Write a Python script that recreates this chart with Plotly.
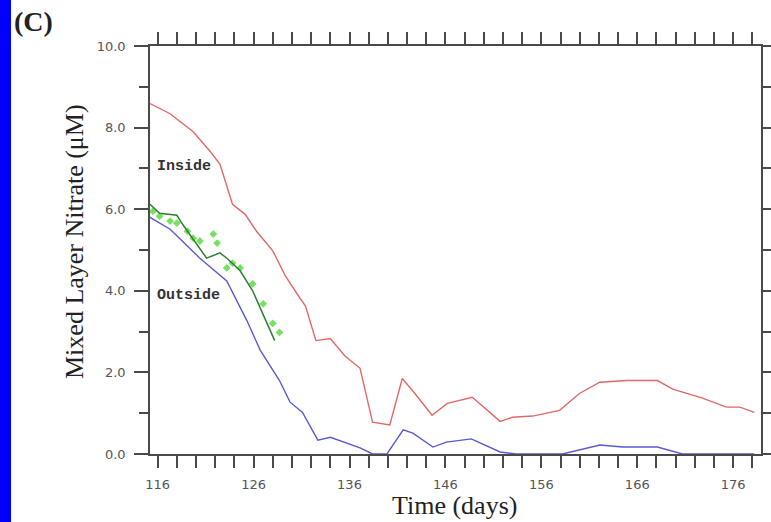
import plotly.graph_objects as go

# Mixed layer nitrate, inside vs outside the patch
inside_day = [115.2, 117.3, 119.7, 121.5, 122.5, 123.8, 125.1, 126.3, 128.0, 129.3,
              130.8, 131.4, 132.5, 134.0, 135.5, 137.1, 138.4, 140.2, 141.5, 142.8,
              144.6, 146.2, 148.8, 151.7, 153.0, 155.1, 157.9, 160.0, 162.1, 164.9,
              168.1, 169.7, 172.8, 175.3, 176.7, 178.2]
inside_no3 = [8.59, 8.34, 7.90, 7.41, 7.10, 6.12, 5.88, 5.46, 4.98, 4.37,
              3.83, 3.63, 2.78, 2.83, 2.41, 2.10, 0.78, 0.71, 1.85, 1.49,
              0.95, 1.24, 1.39, 0.80, 0.90, 0.93, 1.07, 1.49, 1.76, 1.80,
              1.80, 1.59, 1.37, 1.15, 1.15, 1.02]

outside_day = [115.2, 117.3, 120.4, 123.2, 125.3, 126.7, 128.7, 129.8, 131.1, 132.7,
               134.0, 135.7, 137.1, 138.4, 139.9, 141.6, 142.6, 144.7, 146.1, 148.7,
               151.7, 153.4, 158.2, 162.1, 164.5, 168.1, 170.7, 178.2]
outside_no3 = [5.80, 5.51, 4.80, 4.24, 3.27, 2.54, 1.80, 1.27, 1.02, 0.34,
               0.41, 0.27, 0.15, 0.0, 0.0, 0.59, 0.51, 0.17, 0.29, 0.37,
               0.05, 0.0, 0.0, 0.22, 0.17, 0.17, 0.0, 0.0]

model_day = [115.2, 116.2, 118.0, 118.6, 121.1, 122.5, 123.3, 124.6, 125.9, 128.2]
model_no3 = [6.12, 5.90, 5.85, 5.63, 4.80, 4.93, 4.78, 4.49, 4.00, 2.78]

obs_day = [115.5, 116.2, 117.3, 118.0, 119.1, 119.7, 120.4, 121.8, 122.2, 123.2,
           123.8, 124.6, 125.9, 127.0, 128.0, 128.7]
obs_no3 = [5.95, 5.83, 5.71, 5.66, 5.46, 5.29, 5.22, 5.39, 5.17, 4.56,
           4.68, 4.56, 4.17, 3.68, 3.20, 2.98]

x_major = list(range(116, 177, 10))
y_major = [0, 2, 4, 6, 8, 10]

fig = go.Figure()
fig.add_trace(go.Scatter(x=inside_day, y=inside_no3, mode="lines",
                         line=dict(color="#e06868", width=1.4), name="Inside"))
fig.add_trace(go.Scatter(x=outside_day, y=outside_no3, mode="lines",
                         line=dict(color="#5a5ad2", width=1.4), name="Outside"))
fig.add_trace(go.Scatter(x=obs_day, y=obs_no3, mode="markers",
                         marker=dict(symbol="diamond", size=6, color="#78e060"),
                         name="obs"))
fig.add_trace(go.Scatter(x=model_day, y=model_no3, mode="lines",
                         line=dict(color="#2e7d32", width=1.5), name="model"))

tick_font = dict(family="DejaVu Sans", size=13, color="#555555")
axis_common = dict(showgrid=False, zeroline=False, showline=True,
                   linecolor="#4a4a4a", linewidth=1.5, mirror="allticks",
                   ticks="outside", tickcolor="#4a4a4a", tickwidth=1.5,
                   tickfont=tick_font)

fig.update_xaxes(range=[115.2, 178.9], tickvals=x_major,
                 ticktext=[str(v) for v in x_major], ticklen=12,
                 ticklabelstandoff=6,
                 minor=dict(dtick=2, tick0=116, ticks="outside", ticklen=12,
                            tickcolor="#4a4a4a", tickwidth=1.5),
                 **axis_common)
fig.update_yaxes(range=[0, 10], tickvals=y_major,
                 ticktext=[f"{v:.1f}" for v in y_major], ticklen=14,
                 ticklabelstandoff=6,
                 minor=dict(dtick=1, tick0=0, ticks="outside", ticklen=9,
                            tickcolor="#4a4a4a", tickwidth=1.5),
                 **axis_common)

label_font = dict(family="Liberation Mono", size=15, color="#333333")
title_font = dict(family="Liberation Serif", size=26, color="#222222")

annotations = [
    dict(x=0.008, y=(454 - 166) / 408, xref="paper", yref="paper", text="<b>Inside</b>",
         showarrow=False, xanchor="left", yanchor="middle", font=label_font),
    dict(x=0.008, y=(454 - 295) / 408, xref="paper", yref="paper", text="<b>Outside</b>",
         showarrow=False, xanchor="left", yanchor="middle", font=label_font),
    dict(x=(454 - 150) / 611, y=(454 - 505) / 408, xref="paper", yref="paper",
         text="Time (days)", showarrow=False, xanchor="center", yanchor="middle",
         font=title_font),
    dict(x=(75 - 150) / 611, y=(454 - 242) / 408, xref="paper", yref="paper",
         text="Mixed Layer Nitrate (μM)", textangle=-90, showarrow=False,
         xanchor="center", yanchor="middle", font=title_font),
    dict(x=(33 - 150) / 611, y=(454 - 22) / 408, xref="paper", yref="paper",
         text="<b>(C)</b>", showarrow=False, xanchor="center", yanchor="middle",
         font=dict(family="Liberation Serif", size=28, color="#222222")),
]

shapes = [
    dict(type="rect", xref="paper", yref="paper",
         x0=(0 - 150) / 611, x1=(11 - 150) / 611,
         y0=(454 - 522) / 408, y1=(454 - 0) / 408,
         fillcolor="#0000ff", line=dict(width=0), layer="above"),
]

fig.update_layout(width=771, height=522,
                  margin=dict(l=150, r=10, t=46, b=68, autoexpand=False),
                  paper_bgcolor="white", plot_bgcolor="white",
                  showlegend=False, annotations=annotations, shapes=shapes)

fig.write_html("out.html")
